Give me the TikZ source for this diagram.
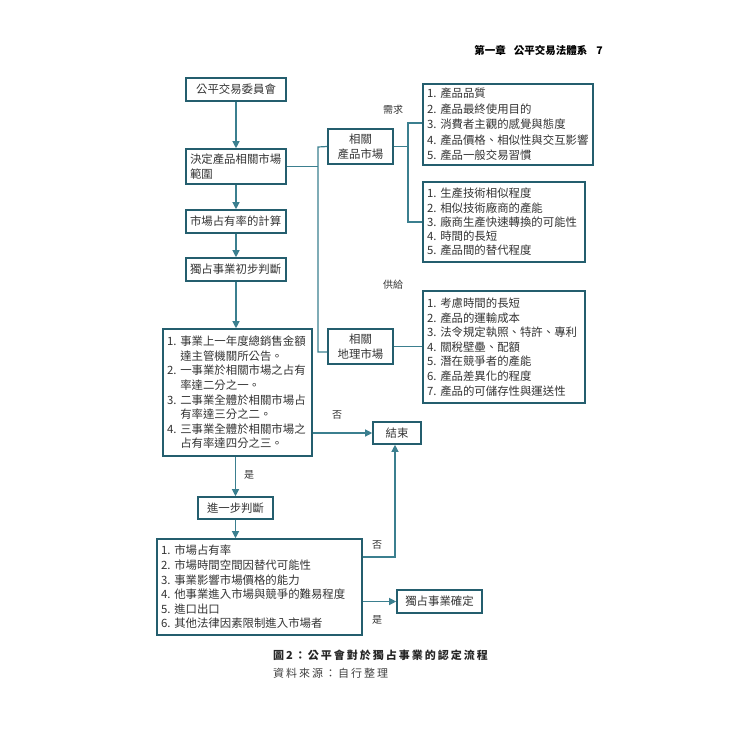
\documentclass[tikz,border=0pt]{standalone}
\usepackage{fontspec}
\setmainfont{Noto Sans CJK TC}
\usetikzlibrary{arrows.meta}
\definecolor{bd}{HTML}{245E6E}
\definecolor{ln}{HTML}{3B7F8F}
\definecolor{tx}{HTML}{333333}
\def\lsp#1{\ifx#1\relax\else#1\hspace{2pt}\expandafter\lsp\fi}
\newcommand\hng{\phantom{1.\ }}
\begin{document}
\begin{tikzpicture}[x=1pt,y=-1pt,
  box/.style={draw=bd,line width=1.6pt,text=tx,inner xsep=4pt,inner ysep=2pt,font=\fontsize{11.4}{14.6}\selectfont},
  conn/.style={draw=ln,line width=1.2pt},
  arr/.style={conn,-{Triangle[length=7pt,width=7pt]}},
  lbl/.style={text=tx,font=\fontsize{10}{12}\selectfont,inner sep=0pt}]
\useasboundingbox (0,0) rectangle (750,750);
% header
\node[anchor=east,font=\bfseries\fontsize{10.5}{12}\selectfont,text=black,inner sep=0pt] (hdr) at (603,50) {第一章\hspace{8pt}公平交易法體系\hspace{9pt}7};
% main flow
\node[box,minimum width=100pt,minimum height=23pt] (b1) at (236,89.5) {公平交易委員會};
\node[box,minimum width=100pt,minimum height=35pt,align=left,text width=92pt,font=\fontsize{11.4}{15.5}\selectfont] (b2) at (236,166.5) {決定產品相關市場\\範圍};
\node[box,minimum width=100pt,minimum height=23pt,align=left,text width=92pt] (b3) at (236,221.5) {市場占有率的計算};
\node[box,minimum width=100pt,minimum height=23pt,align=left,text width=92pt] (b4) at (236,269.5) {獨占事業初步判斷};
\node[box,minimum width=149pt,minimum height=127pt,align=left,text width=141pt] (b5) at (237.5,392.5) {1.\ 事業上一年度總銷售金額\\ \hng 達主管機關所公告。\\2.\ 一事業於相關市場之占有\\ \hng 率達二分之一。\\3.\ 二事業全體於相關市場占\\ \hng 有率達三分之二。\\4.\ 三事業全體於相關市場之\\ \hng 占有率達四分之三。};
\node[box,minimum width=48pt,minimum height=22pt] (end) at (397,433) {結束};
\node[box,minimum width=75pt,minimum height=22pt] (b6) at (235.5,508) {進一步判斷};
\node[box,minimum width=205pt,minimum height=96pt,align=left,text width=197pt] (b7) at (259.5,587) {1.\ 市場占有率\\2.\ 市場時間空間因替代可能性\\3.\ 事業影響市場價格的能力\\4.\ 他事業進入市場與競爭的難易程度\\5.\ 進口出口\\6.\ 其他法律因素限制進入市場者};
\node[box,minimum width=85pt,minimum height=23pt] (conf) at (439.5,601.5) {獨占事業確定};
% right side
\node[box,minimum width=65pt,minimum height=35pt,align=center,font=\fontsize{11.4}{15}\selectfont] (pm) at (360.5,146.5) {相關\\產品市場};
\node[box,minimum width=65pt,minimum height=35pt,align=center,font=\fontsize{11.4}{15}\selectfont] (gm) at (360.5,346.5) {相關\\地理市場};
\node[box,minimum width=170pt,minimum height=81pt,align=left,text width=162pt,font=\fontsize{11.4}{15.5}\selectfont] (l1) at (508,124.5) {1.\ 產品品質\\2.\ 產品最終使用目的\\3.\ 消費者主觀的感覺與態度\\4.\ 產品價格、相似性與交互影響\\5.\ 產品一般交易習慣};
\node[box,minimum width=162pt,minimum height=80pt,align=left,text width=154pt,font=\fontsize{11.4}{14.3}\selectfont] (l2) at (504,222) {1.\ 生產技術相似程度\\2.\ 相似技術廠商的產能\\3.\ 廠商生產快速轉換的可能性\\4.\ 時間的長短\\5.\ 產品間的替代程度};
\node[box,minimum width=162pt,minimum height=112pt,align=left,text width=154pt,font=\fontsize{11.4}{14.6}\selectfont] (l3) at (504,347) {1.\ 考慮時間的長短\\2.\ 產品的運輸成本\\3.\ 法令規定執照、特許、專利\\4.\ 關稅壁壘、配額\\5.\ 潛在競爭者的產能\\6.\ 產品差異化的程度\\7.\ 產品的可儲存性與運送性};
% coordinates
\coordinate (j1) at (318,147);
\coordinate (j2) at (318,352);
\coordinate (j3) at (408,123);
\coordinate (j4) at (408,222);
\coordinate (k) at (395,557);
% connectors
\draw[arr] (b1.south) -- (b2.north);
\draw[arr] (b2.south) -- (b3.north);
\draw[arr] (b3.south) -- (b4.north);
\draw[arr] (b4.south) -- (b4.south |- b5.north);
\draw[arr] (end.west -| b5.east) -- (end.west);
\draw[arr] (b6.north |- b5.south) -- (b6.north);
\draw[arr] (b6.south) -- (b6.south |- b7.north);
\draw[arr] (b7.east |- k) -- (k) -- (k |- end.south);
\draw[arr] (conf.west -| b7.east) -- (conf.west);
\draw[conn] (b2.east) -- (b2.east -| j1);
\draw[conn] (pm.west) -- (j1) -- (j2) -- (gm.west |- j2);
\draw[conn] (pm.east) -- (pm.east -| j3);
\draw[conn] (l1.west |- j3) -- (j3) -- (j4) -- (l2.west);
\draw[conn] (gm.east) -- (gm.east -| l3.west);
% labels
\node[lbl] (need) at (393,110) {需求};
\node[lbl] (supply) at (393,285) {供給};
\node[lbl] (no1) at (337,415) {否};
\node[lbl] (yes1) at (249,475) {是};
\node[lbl] (no2) at (377,545) {否};
\node[lbl] (yes2) at (377,620) {是};
% caption
\node[anchor=west,inner sep=0pt,font=\bfseries\fontsize{11}{13}\selectfont,text=black!85] (cap) at (273,655) {\lsp 圖2：公平會對於獨占事業的認定流程\relax};
\node[anchor=west,inner sep=0pt,font=\fontsize{11}{13}\selectfont,text=black!75] (src) at (273,673) {\lsp 資料來源：自行整理\relax};
\end{tikzpicture}
\end{document}
